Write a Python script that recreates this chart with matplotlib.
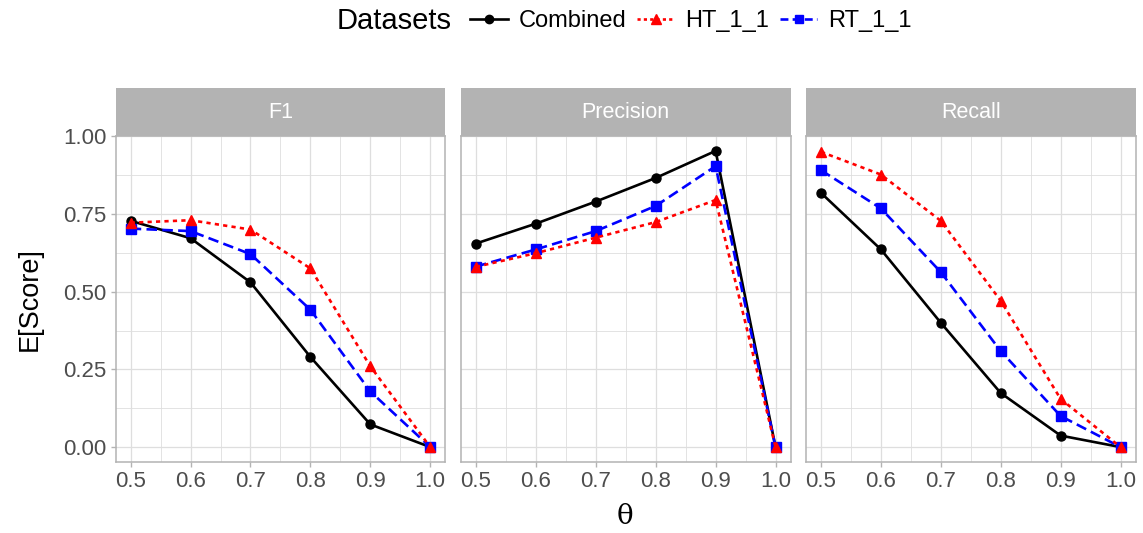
import numpy as np
import matplotlib.pyplot as plt
from matplotlib.lines import Line2D

plt.rcParams['font.family'] = ['Liberation Sans', 'DejaVu Sans']

theta = [0.5, 0.6, 0.7, 0.8, 0.9, 1.0]
panels = ['F1', 'Precision', 'Recall']

combined_f1 = [0.728, 0.672, 0.530, 0.290, 0.073, 0.0]
ht_f1 = [0.722, 0.730, 0.700, 0.575, 0.260, 0.0]
rt_f1 = [0.703, 0.695, 0.621, 0.442, 0.179, 0.0]

combined_prec = [0.655, 0.719, 0.790, 0.866, 0.953, 0.0]
ht_prec = [0.580, 0.624, 0.674, 0.724, 0.795, 0.0]
rt_prec = [0.581, 0.636, 0.695, 0.776, 0.904, 0.0]

combined_rec = [0.818, 0.636, 0.400, 0.174, 0.037, 0.0]
ht_rec = [0.950, 0.877, 0.728, 0.471, 0.155, 0.0]
rt_rec = [0.891, 0.768, 0.563, 0.309, 0.100, 0.0]

data = {
    'F1': (combined_f1, ht_f1, rt_f1),
    'Precision': (combined_prec, ht_prec, rt_prec),
    'Recall': (combined_rec, ht_rec, rt_rec),
}

W, H = 1143, 533
fig = plt.figure(figsize=(W / 100, H / 100), dpi=100)

panel_left = [115.7, 461.0, 806.0]
panel_w = 329.5
panel_top = 136
panel_bot = 462
strip_top = 88

grey70 = '#b3b3b3'
grid_col = '#dedede'
lw = 1.9

for i, name in enumerate(panels):
    x0 = panel_left[i]
    ax = fig.add_axes([x0 / W, 1 - panel_bot / H, panel_w / W, (panel_bot - panel_top) / H])
    comb, ht, rt = data[name]
    ax.plot(theta, comb, color='black', lw=lw, marker='o', ms=6.5, zorder=3)
    ax.plot(theta, ht, color='red', lw=lw, marker='^', ms=7.5, dashes=(1.6, 1.6), zorder=4)
    ax.plot(theta, rt, color='blue', lw=lw, marker='s', ms=6.5, dashes=(4, 2), zorder=3)

    ax.set_xlim(0.475, 1.025)
    ax.set_ylim(-0.048, 1.001)
    ax.set_xticks(theta)
    ax.set_xticks([0.55, 0.65, 0.75, 0.85, 0.95], minor=True)
    ax.set_yticks([0, 0.25, 0.5, 0.75, 1.0])
    ax.set_yticks([0.125, 0.375, 0.625, 0.875], minor=True)
    ax.set_xticklabels(['0.5', '0.6', '0.7', '0.8', '0.9', '1.0'])
    ax.grid(True, which='major', color=grid_col, lw=0.9, zorder=0)
    ax.grid(True, which='minor', color=grid_col, lw=0.6, zorder=0)
    ax.set_axisbelow(True)
    for s in ax.spines.values():
        s.set_color(grey70)
        s.set_linewidth(1.1)
    ax.tick_params(which='major', length=3.5, width=1.0, color=grey70,
                   labelsize=16, labelcolor='#4d4d4d', pad=3)
    ax.tick_params(which='minor', length=0)
    if i == 0:
        ax.set_yticklabels(['0.00', '0.25', '0.50', '0.75', '1.00'])
    else:
        ax.tick_params(axis='y', which='major', length=0, labelleft=False)

    # facet strip
    sax = fig.add_axes([x0 / W, 1 - panel_top / H, panel_w / W, (panel_top - strip_top) / H])
    sax.set_facecolor(grey70)
    sax.set_xticks([])
    sax.set_yticks([])
    for s in sax.spines.values():
        s.set_visible(False)
    sax.text(0.5, 0.5, name, color='white', fontsize=15.5, ha='center', va='center',
             transform=sax.transAxes)

fig.text(30 / W, 1 - 299 / H, 'E[Score]', rotation=90, fontsize=19.5, ha='center', va='center')
fig.text(625 / W, 1 - 517 / H, 'θ', fontsize=20, ha='center', va='center',
         family=['DejaVu Serif'])

# legend
fig.text(337 / W, 1 - 21 / H, 'Datasets', fontsize=21, ha='left', va='center')
handles = [
    Line2D([], [], color='black', lw=lw, marker='o', ms=6),
    Line2D([], [], color='red', lw=lw, marker='^', ms=7, dashes=(1.2, 1.2)),
    Line2D([], [], color='blue', lw=lw, marker='s', ms=6, dashes=(3, 1.6)),
]
fig.legend(handles, ['Combined', 'HT_1_1', 'RT_1_1'], ncol=3, loc='center left',
           bbox_to_anchor=(470 / W, 1 - 21 / H), frameon=False, fontsize=17,
           handlelength=1.6, handletextpad=0.45, columnspacing=0.45, borderpad=0,
           borderaxespad=0)

fig.savefig('out.png', dpi=100)
